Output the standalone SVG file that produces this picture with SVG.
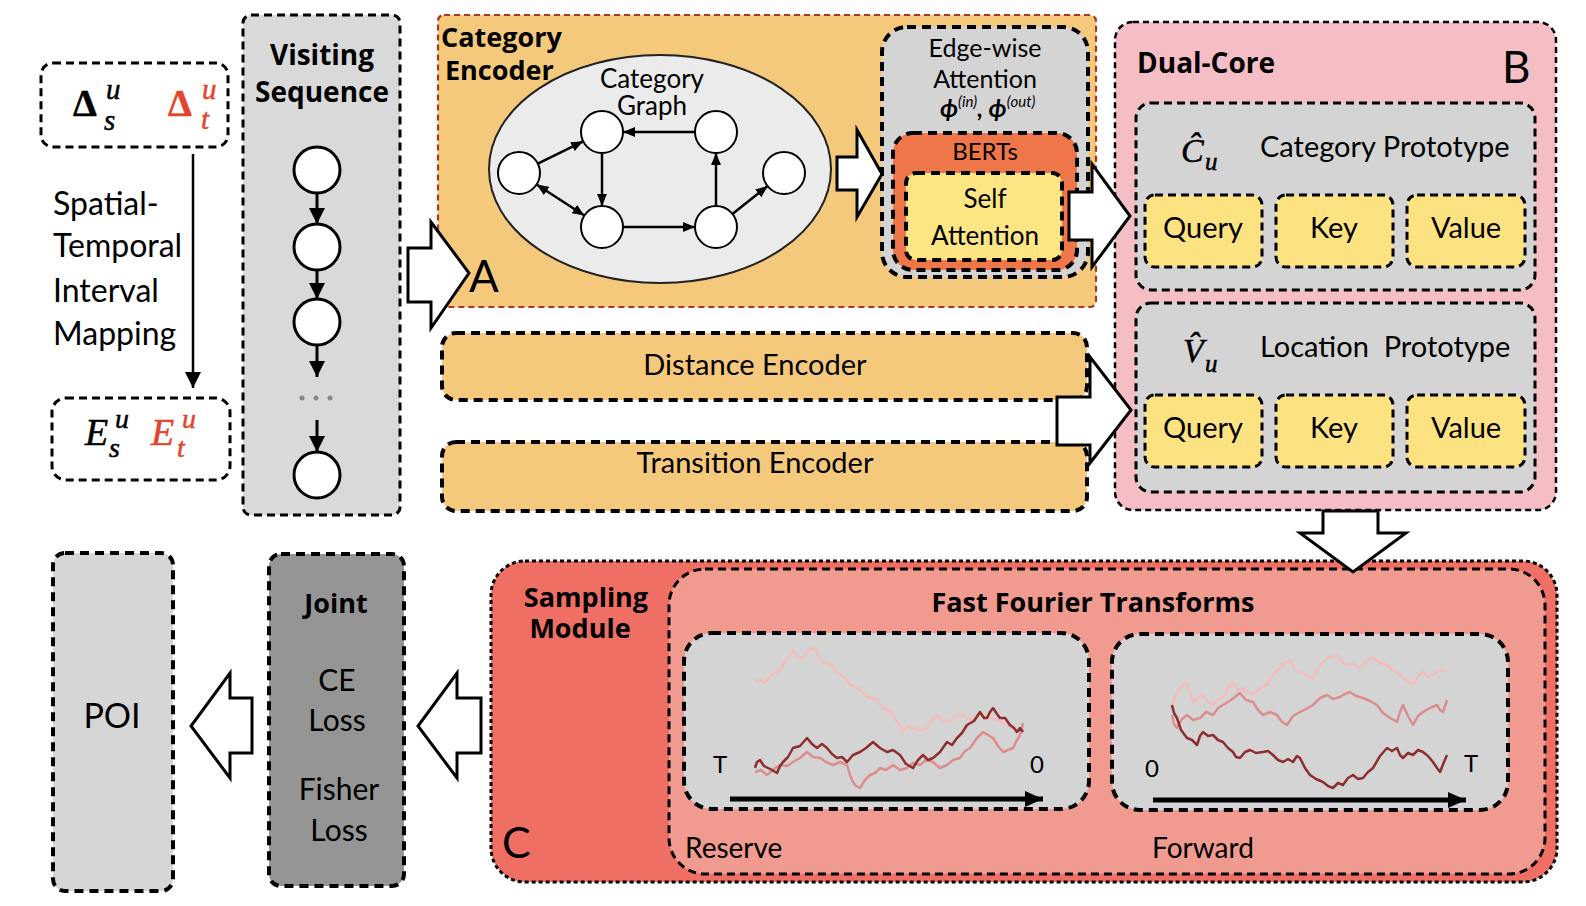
<svg xmlns="http://www.w3.org/2000/svg" width="1586" height="906" viewBox="0 0 1586 906">
<defs>
<style>
text{font-family:Lato,"Noto Sans",sans-serif;fill:#000}
.b{font-family:"Open Sans",Lato,sans-serif;font-weight:bold}
.mf{font-family:"Liberation Serif","DejaVu Serif",serif;stroke:#000;stroke-width:0.5}
.i{font-style:italic}
.c{text-anchor:middle}
.red{fill:#e5432b}
.mf.red{stroke:#e5432b}
.dash{stroke:#000;stroke-width:3;stroke-dasharray:8 5}
.dthin{stroke:#000;stroke-width:2.5;stroke-dasharray:6 4}
.dthick{stroke:#000;stroke-width:4;stroke-dasharray:9 6}
.blk{fill:#fff;stroke:#000;stroke-width:3}
.edge{stroke:#000;stroke-width:2.5;fill:none;marker-end:url(#ah)}
.node{fill:#fff;stroke:#000;stroke-width:2}
.seq{fill:#fff;stroke:#000;stroke-width:3}
.walk{fill:none;stroke-width:2.5;stroke-linejoin:round}
.yel{fill:#fce281}
.org{fill:#f5c97b}
</style>
<marker id="ah" markerUnits="userSpaceOnUse" markerWidth="12" markerHeight="10" viewBox="0 0 12 10" refX="12" refY="5" orient="auto-start-reverse"><path d="M0,0 L12,5 L0,10 z"/></marker>
<marker id="ahs" markerUnits="userSpaceOnUse" markerWidth="18" markerHeight="16" viewBox="0 0 18 16" refX="16" refY="8" orient="auto"><path d="M0,0 L16,8 L0,16 z"/></marker>
<marker id="ahm" markerUnits="userSpaceOnUse" markerWidth="18" markerHeight="16" viewBox="0 0 18 16" refX="18" refY="8" orient="auto"><path d="M0,0 L18,8 L0,16 z"/></marker>
</defs>

<g id="delta-box">
  <rect x="41" y="63" width="187" height="84" rx="12" fill="#fff" class="dash"/>
  <text class="mf" x="73" y="116" font-size="38" font-weight="bold">Δ<tspan class="i" font-weight="normal" font-size="29" x="106" y="99">u</tspan><tspan class="i" font-weight="normal" font-size="29" x="104" y="130">s</tspan></text>
  <text class="mf red" x="168" y="116" font-size="38" font-weight="bold">Δ<tspan class="i" font-weight="normal" font-size="29" x="202" y="99">u</tspan><tspan class="i" font-weight="normal" font-size="29" x="201" y="129">t</tspan></text>
</g>

<g id="mapping-label">
  <text x="53" y="215" font-size="32">Spatial-</text>
  <text x="53" y="257" font-size="32">Temporal</text>
  <text x="53" y="302" font-size="32">Interval</text>
  <text x="53" y="345" font-size="32">Mapping</text>
</g>

<g id="e-box">
  <rect x="52" y="398" width="178" height="82" rx="14" fill="#fff" class="dash"/>
  <text class="mf i" x="85" y="445" font-size="38">E<tspan font-size="28" x="115" y="428">u</tspan><tspan font-size="28" x="109" y="457">s</tspan></text>
  <text class="mf i red" x="151" y="445" font-size="38">E<tspan font-size="28" x="182" y="428">u</tspan><tspan font-size="28" x="177" y="457">t</tspan></text>
</g>

<g id="visiting-sequence">
  <rect x="243" y="15" width="157" height="500" rx="8" fill="#d9d9d9" class="dash"/>
  <text class="b c" x="322" y="65" font-size="28">Visiting</text>
  <text class="b c" x="322" y="102" font-size="28">Sequence</text>
  <line x1="317" y1="193" x2="317" y2="224" stroke="#000" stroke-width="3" marker-end="url(#ahs)"/>
  <line x1="317" y1="270" x2="317" y2="299" stroke="#000" stroke-width="3" marker-end="url(#ahs)"/>
  <line x1="317" y1="345" x2="317" y2="377" stroke="#000" stroke-width="3" marker-end="url(#ahs)"/>
  <line x1="317" y1="420" x2="317" y2="452" stroke="#000" stroke-width="3" marker-end="url(#ahs)"/>
  <circle class="seq" cx="317" cy="170" r="23"/>
  <circle class="seq" cx="317" cy="247" r="23"/>
  <circle class="seq" cx="317" cy="322" r="23"/>
  <circle class="seq" cx="317" cy="475" r="23"/>
  <circle cx="302" cy="398" r="2.5" fill="#888"/>
  <circle cx="316" cy="398" r="2.5" fill="#888"/>
  <circle cx="330" cy="398" r="2.5" fill="#888"/>
</g>

<g id="category-encoder">
  <rect x="438" y="15" width="658" height="292" rx="6" class="org" stroke="#a63a1e" stroke-width="2.2" stroke-dasharray="6 4"/>
  <text class="b" x="441" y="47" font-size="27">Category</text>
  <text class="b" x="445" y="80" font-size="27">Encoder</text>
  <text x="469" y="292" font-size="44">A</text>
</g>

<g id="category-graph">
  <ellipse cx="660" cy="169" rx="171" ry="114" fill="#ebebeb" stroke="#222" stroke-width="2"/>
  <text class="c" x="652" y="88" font-size="26">Category</text>
  <text class="c" x="652" y="115" font-size="26">Graph</text>
  <path class="edge" d="M537.8,163.7 L583.2,141.3"/>
  <path class="edge" d="M695,132 L623,132"/>
  <path class="edge" d="M602,153 L602,206"/>
  <path class="edge" d="M536.6,184.5 L584.4,215.5" marker-start="url(#ah)"/>
  <path class="edge" d="M623,227 L695,227"/>
  <path class="edge" d="M716,206 L716,153"/>
  <path class="edge" d="M732.4,213.9 L767.6,186.1"/>
  <circle class="node" cx="519" cy="173" r="21"/>
  <circle class="node" cx="602" cy="132" r="21"/>
  <circle class="node" cx="716" cy="132" r="21"/>
  <circle class="node" cx="602" cy="227" r="21"/>
  <circle class="node" cx="716" cy="227" r="21"/>
  <circle class="node" cx="784" cy="173" r="21"/>
</g>

<g id="edge-wise-attention">
  <rect x="882" y="27" width="206" height="250" rx="25" fill="#d4d4d4" class="dthick"/>
  <text class="c" x="985" y="57" font-size="25">Edge-wise</text>
  <text class="c" x="985" y="88" font-size="25">Attention</text>
  <text x="940" y="117" font-family="Liberation Serif,DejaVu Serif,serif" font-style="italic" font-weight="bold" font-size="25">ϕ<tspan font-size="15" font-weight="normal" dy="-10">(in)</tspan><tspan dy="10">, ϕ</tspan><tspan font-size="15" font-weight="normal" dy="-10">(out)</tspan></text>
</g>

<g id="berts">
  <rect x="893" y="133" width="184" height="137" rx="20" fill="#ee7649" class="dthick"/>
  <text class="c" x="985" y="160" font-size="24">BERTs</text>
</g>

<g id="self-attention">
  <rect x="906" y="173" width="156" height="87" rx="10" fill="#fde583" class="dthick"/>
  <text class="c" x="985" y="208" font-size="26">Self</text>
  <text class="c" x="985" y="245" font-size="26">Attention</text>
</g>

<g id="distance-encoder">
  <rect x="442" y="333" width="645" height="67" rx="14" class="org dthick"/>
  <text class="c" x="755" y="375" font-size="29">Distance Encoder</text>
</g>

<g id="transition-encoder">
  <rect x="442" y="442" width="645" height="69" rx="14" class="org dthick"/>
  <text class="c" x="755" y="473" font-size="29">Transition Encoder</text>
</g>

<g id="dual-core">
  <rect x="1115" y="22" width="441" height="488" rx="18" fill="#f4bec4" class="dthin"/>
  <text class="b" x="1137" y="73" font-size="28">Dual-Core</text>
  <text x="1502" y="83" font-size="44">B</text>
</g>

<g id="category-prototype">
  <rect x="1136" y="103" width="399" height="187" rx="15" fill="#d4d4d4" class="dash"/>
  <text class="mf i" x="1181" y="162" font-size="34">Ĉ<tspan font-size="25" x="1205" y="170">u</tspan></text>
  <text x="1260" y="157" font-size="29">Category Prototype</text>
</g>
<g id="cat-query"><rect x="1145" y="195" width="117" height="72" rx="10" class="yel dash"/><text class="c" x="1203" y="238" font-size="29">Query</text></g>
<g id="cat-key"><rect x="1276" y="195" width="117" height="72" rx="10" class="yel dash"/><text class="c" x="1334" y="238" font-size="29">Key</text></g>
<g id="cat-value"><rect x="1407" y="195" width="118" height="72" rx="10" class="yel dash"/><text class="c" x="1466" y="238" font-size="29">Value</text></g>

<g id="location-prototype">
  <rect x="1136" y="303" width="399" height="189" rx="15" fill="#d4d4d4" class="dash"/>
  <text class="mf i" x="1183" y="362" font-size="34">V̂<tspan font-size="25" x="1205" y="372">u</tspan></text>
  <text x="1260" y="357" font-size="29" style="white-space:pre">Location  Prototype</text>
</g>
<g id="loc-query"><rect x="1145" y="395" width="117" height="72" rx="10" class="yel dash"/><text class="c" x="1203" y="438" font-size="29">Query</text></g>
<g id="loc-key"><rect x="1276" y="395" width="117" height="72" rx="10" class="yel dash"/><text class="c" x="1334" y="438" font-size="29">Key</text></g>
<g id="loc-value"><rect x="1407" y="395" width="118" height="72" rx="10" class="yel dash"/><text class="c" x="1466" y="438" font-size="29">Value</text></g>

<g id="sampling-module">
  <rect x="491" y="561" width="1066" height="321" rx="34" fill="#ef6f64" stroke="#000" stroke-width="3" stroke-dasharray="4 3"/>
  <text class="b c" x="586" y="607" font-size="27">Sampling</text>
  <text class="b c" x="580" y="638" font-size="27">Module</text>
  <text x="502" y="858" font-size="43">C</text>
</g>

<g id="fft">
  <rect x="669" y="569" width="876" height="305" rx="36" fill="#f19a90" class="dash"/>
  <text class="b c" x="1093" y="612" font-size="27">Fast Fourier Transforms</text>
  <text x="685" y="858" font-size="28">Reserve</text>
  <text class="c" x="1203" y="858" font-size="28">Forward</text>
</g>

<g id="reserve-plot">
  <rect x="684" y="633" width="405" height="176" rx="28" fill="#d4d4d4" class="dthick"/>
  <path class="walk" stroke="#f5bcbc" d="M755 682 L760 679 765 683 771 675 777 672 781 668 787 658 790 656 793 650 798 657 803 658 809 650 815 648 818 656 823 662 830 664 837 672 843 676 850 685 858 688 867 697 875 699 883 708 890 711 897 722 900 725 903 732 908 726 913 728 920 731 927 728 932 720 937 715 943 720 950 722 956 716 963 715 970 720 977 717 983 714 990 718 998 720 1007 725 1012 727 1017 732 1020 729 1023 725"/>
  <path class="walk" stroke="#dc8d8d" d="M755 772 L761 770 767 775 774 769 780 765 787 766 793 762 800 758 807 752 813 757 820 758 826 762 833 765 840 762 847 765 850 775 853 782 856 786 860 788 865 780 870 775 875 773 880 768 886 770 893 765 900 770 907 768 913 763 920 765 926 760 933 762 940 768 947 765 953 760 960 758 965 751 970 748 977 738 983 732 988 735 993 738 998 746 1003 752 1008 750 1013 748 1017 740 1020 735 1022 728 1023 723"/>
  <path class="walk" stroke="#8e2f2f" d="M755 768 L757 762 760 760 764 766 768 768 772 770 777 773 780 766 783 762 788 757 793 748 800 746 807 738 812 744 817 748 822 744 827 748 832 754 837 758 842 757 847 762 853 755 860 752 866 748 873 742 880 748 887 752 893 750 900 755 906 764 913 768 918 760 923 755 928 760 933 758 940 752 947 742 952 745 957 738 962 733 967 725 974 721 980 712 984 718 987 718 990 712 993 708 997 714 1000 718 1005 718 1010 725 1014 728 1017 732 1020 728 1023 732"/>
  <text x="713" y="773" font-size="24">T</text>
  <text x="1030" y="773" font-size="24">0</text>
  <line x1="730" y1="799" x2="1043" y2="799" stroke="#000" stroke-width="5" marker-end="url(#ahm)"/>
</g>

<g id="forward-plot">
  <rect x="1112" y="634" width="396" height="176" rx="28" fill="#d4d4d4" class="dthick"/>
  <path class="walk" stroke="#f5bcbc" d="M1172 708 L1174 698 1177 692 1182 686 1187 683 1190 694 1193 702 1198 697 1203 695 1208 702 1213 705 1218 699 1223 698 1228 688 1233 683 1238 690 1243 688 1248 693 1253 695 1260 688 1267 685 1273 674 1280 668 1285 663 1290 660 1295 669 1300 672 1307 676 1313 678 1320 666 1327 658 1332 657 1337 655 1342 662 1347 665 1353 664 1360 668 1366 661 1373 658 1380 663 1387 665 1393 670 1400 675 1406 680 1413 685 1418 676 1423 672 1428 677 1433 675 1440 670 1447 672"/>
  <path class="walk" stroke="#dc8d8d" d="M1172 715 L1174 724 1177 728 1182 719 1187 715 1193 720 1200 718 1206 712 1213 715 1218 708 1223 705 1231 700 1240 693 1246 700 1253 702 1258 710 1263 715 1270 712 1277 715 1282 722 1287 725 1293 716 1300 712 1306 709 1313 705 1320 698 1327 695 1333 699 1340 697 1345 694 1350 692 1356 696 1363 698 1370 701 1377 705 1383 713 1390 718 1394 720 1397 722 1400 712 1403 705 1408 716 1413 725 1418 716 1423 712 1430 708 1437 705 1440 710 1443 712 1445 706 1447 700"/>
  <path class="walk" stroke="#8e2f2f" d="M1172 705 L1174 713 1177 718 1181 730 1187 738 1192 740 1197 745 1200 736 1203 732 1208 736 1213 735 1218 740 1223 742 1228 748 1233 752 1236 757 1240 758 1245 752 1250 750 1256 753 1263 752 1268 751 1273 755 1278 760 1283 762 1288 759 1293 762 1297 756 1300 758 1305 768 1310 775 1316 779 1323 782 1328 786 1333 788 1338 783 1343 785 1348 778 1353 775 1358 779 1363 778 1368 772 1373 768 1380 756 1387 748 1392 751 1397 748 1400 755 1403 758 1408 753 1413 755 1418 750 1423 752 1428 756 1433 762 1437 768 1440 772 1444 762 1447 755"/>
  <text x="1145" y="777" font-size="24">0</text>
  <text x="1464" y="772" font-size="24">T</text>
  <line x1="1153" y1="800" x2="1466" y2="800" stroke="#000" stroke-width="5" marker-end="url(#ahm)"/>
</g>

<g id="joint-loss">
  <rect x="269" y="554" width="135" height="332" rx="12" fill="#959595" class="dthick"/>
  <text class="b c" x="336" y="613" font-size="27">Joint</text>
  <text class="c" x="337" y="691" font-size="30">CE</text>
  <text class="c" x="337" y="731" font-size="30">Loss</text>
  <text class="c" x="339" y="800" font-size="30">Fisher</text>
  <text class="c" x="339" y="841" font-size="30">Loss</text>
</g>

<g id="poi">
  <rect x="53" y="553" width="120" height="338" rx="12" fill="#d6d6d6" class="dthick"/>
  <text class="c" x="112" y="728" font-size="34">POI</text>
</g>

<g id="connectors">
  <line x1="193" y1="154" x2="193" y2="388" stroke="#000" stroke-width="2.5" marker-end="url(#ahs)"/>
  <polygon class="blk" points="408,248 431,248 431,222 469,273 431,328 431,302 408,302"/>
  <polygon class="blk" points="837,157 857,157 857,130 882,174 857,217 857,190 837,190"/>
  <polygon class="blk" points="1069,192 1092,192 1092,164 1130,216 1092,267 1092,240 1069,240"/>
  <polygon class="blk" points="1057,397 1090,397 1090,357 1131,410 1090,463 1090,445 1057,445"/>
  <polygon class="blk" points="1323,511 1378,511 1378,533 1406,533 1353,572 1300,533 1323,533"/>
  <polygon class="blk" points="481,698 457,698 457,673 418,726 457,778 457,753 481,753"/>
  <polygon class="blk" points="252,698 230,698 230,673 191,726 230,778 230,753 252,753"/>
</g>
</svg>
